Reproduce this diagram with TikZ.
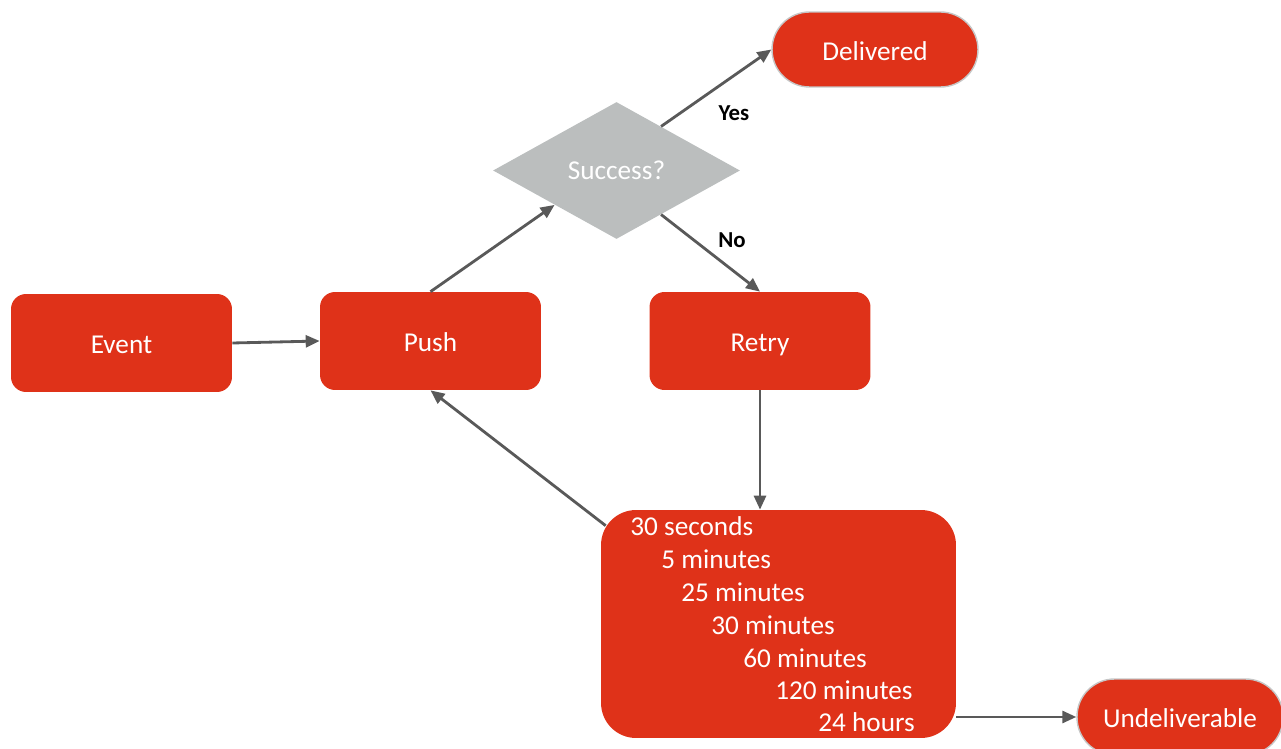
\documentclass[tikz,border=0pt]{standalone}
\usepackage{fontspec}
\setmainfont{Carlito}
\usetikzlibrary{shapes.geometric,arrows.meta,calc}

\definecolor{boxred}{HTML}{DF3219}
\definecolor{diagray}{HTML}{BBBEBE}
\definecolor{linegray}{HTML}{595959}

\tikzset{
    flowbox/.style={fill=boxred, text=white, rounded corners=0.3cm,
        minimum width=4.42cm, minimum height=1.96cm, inner sep=0pt,
        text height=13.5pt, text depth=1.3pt,
        font=\fontsize{15.5}{18}\selectfont},
    endbox/.style={fill=boxred, draw=gray!45, line width=0.8pt, text=white,
        rounded corners=0.75cm, minimum width=4.12cm, minimum height=1.5cm,
        inner sep=0pt, text height=13.5pt, text depth=1.3pt,
        font=\fontsize{15.5}{18}\selectfont},
    flowline/.style={draw=linegray, line width=1.6pt,
        -{Triangle[length=0.28cm, width=0.24cm]}},
    answer/.style={font=\bfseries\fontsize{13}{15}\selectfont, text=black}
}

\begin{document}
\begin{tikzpicture}[x=0.02cm, y=-0.02cm]
    \useasboundingbox (0,0) rectangle (1281,749);

    % Kasten
    \node[flowbox] (event) at (121.5, 343) {Event};
    \node[flowbox] (push) at (430.5, 341) {Push};
    \node[flowbox] (retry) at (760, 341) {Retry};
    \node[diamond, fill=diagray, text=white, inner sep=0pt,
          minimum width=4.94cm, minimum height=2.74cm,
          font=\fontsize{15.5}{18}\selectfont] (success) at (616.5, 170.5) {Success?};
    \node[endbox] (delivered) at (875, 49.5) {Delivered};
    \node[endbox, minimum height=1.52cm] (undeliverable) at (1180, 717) {Undeliverable};
    \node[fill=boxred, rounded corners=0.7cm, minimum width=7.1cm,
          minimum height=4.56cm] (waits) at (778.5, 624) {};

    % Wartezeiten
    \foreach \i/\x/\y/\val in {
        1/630/526/30 seconds,
        2/661/559/5 minutes,
        3/681/592/25 minutes,
        4/711/625/30 minutes,
        5/743/658/60 minutes,
        6/775/690/120 minutes,
        7/818/722/24 hours
        } {
        \node[anchor=west, inner sep=0pt, text=white,
              font=\fontsize{15.5}{18}\selectfont] (wait\i) at (\x, \y) {\val};
    }

    % Pfeile
    \draw[flowline] (event.east) -- (push.west);
    \draw[flowline] (push.north) -- ($(success.west)!0.5!(success.south)$);
    \draw[flowline] ($(success.north)!0.36!(success.east)$) -- (delivered.west);
    \draw[flowline] ($(success.south)!0.36!(success.east)$) -- (retry.north);
    \draw[flowline] (retry.south) -- (retry.south |- waits.north);
    \draw[flowline] ($(waits.north west)+(5,16)$) -- (push.south);
    \draw[flowline] (undeliverable.west -| waits.east) -- (undeliverable.west);

    \node[answer] (yes) at (734, 113) {Yes};
    \node[answer] (no) at (732, 240) {No};
\end{tikzpicture}
\end{document}
